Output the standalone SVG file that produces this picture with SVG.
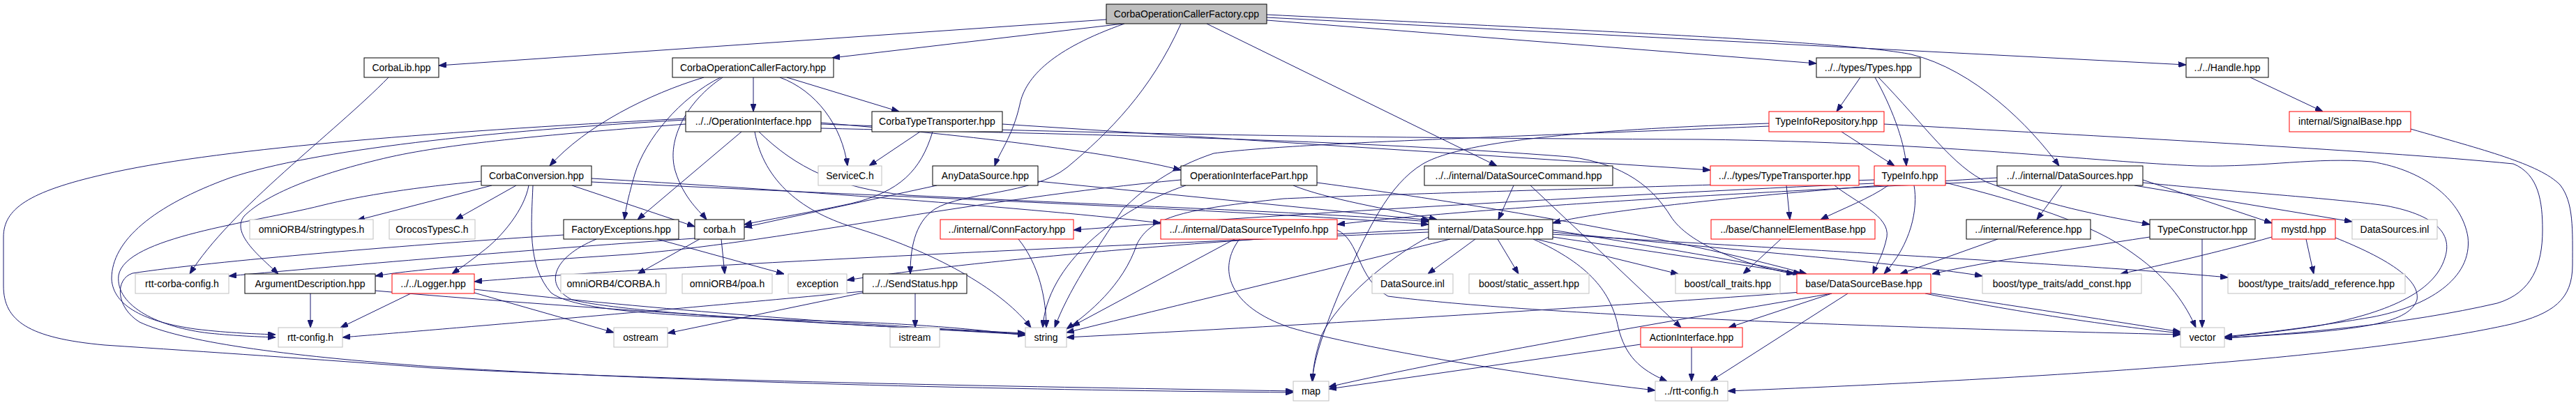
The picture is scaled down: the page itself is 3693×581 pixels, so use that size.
<svg xmlns="http://www.w3.org/2000/svg" width="3693" height="581" viewBox="0 0 3693 581">
<style>
rect{fill:#fff;stroke:#000;stroke-width:1}
.r rect{stroke:#ff0000}
.g rect{stroke:#bfbfbf}
.root rect{fill:#bfbfbf;stroke:#000}
text{font-family:"Liberation Sans",Arial,sans-serif;font-size:14px;text-anchor:middle;fill:#000}
#edges path{fill:none;stroke:#191970;stroke-width:1;marker-end:url(#a)}
</style>
<defs>
<marker id="a" markerWidth="11" markerHeight="8" refX="11" refY="4" orient="auto" markerUnits="userSpaceOnUse"><path d="M0,0 L11,4 L0,8 z" fill="#191970" stroke="#191970" stroke-width="1"/></marker>
</defs>
<rect x="0" y="0" width="3693" height="581" style="fill:#fff;stroke:none"/>
<g id="edges">
<path d="M1586,28 L629,94"/>
<path d="M1610,34 L1193,83"/>
<path d="M1816,29 L2604,91"/>
<path d="M1816,25 L3134,93"/>
<path d="M1816,21 C2300,45 2650,60 2740,78 C2830,100 2910,180 2952,238"/>
<path d="M1730,34 L2146,238"/>
<path d="M1612,34 C1510,70 1470,110 1462,150 C1452,195 1432,220 1426,238"/>
<path d="M1693,34 C1650,130 1590,190 1530,240 C1480,280 1380,275 1340,300 C1310,320 1305,360 1305,393"/>
<path d="M1080,111 L1080,160"/>
<path d="M1009,111 C930,135 840,180 788,238"/>
<path d="M1033,111 C975,140 925,200 910,250 C900,285 897,300 895,315"/>
<path d="M1036,111 C985,145 955,200 968,245 C980,285 1005,305 1013,315"/>
<path d="M1118,111 C1170,130 1207,180 1215,238"/>
<path d="M1128,111 L1289,160"/>
<path d="M1177,176 C1400,195 1600,220 1693,244"/>
<path d="M1063,189 L914,315"/>
<path d="M1082,189 C1095,260 1150,305 1230,328 C1350,365 1440,420 1478,470"/>
<path d="M983,178 C800,192 650,205 560,225 C450,250 380,280 350,310 C330,335 375,370 399,393"/>
<path d="M983,172 C700,188 450,215 330,255 C220,295 160,345 160,400 C162,440 210,462 280,472 C330,478 370,479 395,480"/>
<path d="M983,170 C600,190 300,215 150,250 C40,275 5,300 5,340 L5,410 C5,460 40,485 150,495 C300,505 450,515 620,528 C1000,548 1500,555 1854,561"/>
<path d="M1177,178 C1500,190 1900,198 2440,200 C2800,205 3000,232 3150,238 C3250,240 3320,225 3400,232 C3480,245 3530,290 3538,340 C3545,400 3480,440 3400,455 C3300,472 3220,480 3189,483"/>
<path d="M1177,184 C1500,192 1900,198 2250,225 C2330,235 2370,270 2395,310 C2420,350 2500,380 2572,393"/>
<path d="M1088,189 C1140,240 1200,270 1300,280 C1600,295 1900,305 2048,318"/>
<path d="M1319,189 L1246,238"/>
<path d="M1337,189 C1320,245 1290,275 1220,292 C1150,307 1100,315 1067,322"/>
<path d="M1437,178 L2452,244"/>
<path d="M2667,111 L2633,160"/>
<path d="M2688,111 C2710,150 2730,200 2733,238"/>
<path d="M2693,111 C2760,180 2800,240 2850,262 C2950,300 3030,312 3082,322"/>
<path d="M2640,189 L2716,238"/>
<path d="M2536,177 C2300,185 2100,200 2040,235 C1990,265 1960,330 1920,420 C1895,480 1883,520 1881,547"/>
<path d="M2536,181 C2200,195 1850,205 1740,220 C1680,240 1640,270 1610,300 C1570,360 1530,420 1512,470"/>
<path d="M2701,178 C3000,195 3400,215 3603,235 C3640,250 3645,290 3645,330 C3645,380 3630,420 3580,435 C3450,465 3300,478 3189,485"/>
<path d="M3072,262 C3200,275 3350,285 3420,295 C3500,310 3515,340 3505,370 C3490,420 3420,450 3320,468 C3250,478 3210,482 3189,484"/>
<path d="M3226,111 L3330,160"/>
<path d="M3456,185 C3560,215 3640,235 3670,265 C3690,290 3688,330 3688,380 C3688,430 3660,450 3600,465 C3400,510 3000,540 2477,561"/>
<path d="M705,266 L512,316"/>
<path d="M740,266 L653,315"/>
<path d="M820,266 L996,325"/>
<path d="M758,266 C752,300 720,340 690,362 C670,378 655,388 648,393"/>
<path d="M764,266 C762,320 755,380 790,420 C830,450 1000,455 1230,462 C1350,467 1420,475 1470,481"/>
<path d="M690,260 C600,268 520,280 460,295 C360,320 180,340 170,395 C165,440 230,470 300,478 C340,482 370,483 395,484"/>
<path d="M808,337 C600,350 300,375 190,392 C165,400 165,440 200,462 C260,490 400,510 620,526 C1000,550 1500,560 1854,563"/>
<path d="M848,256 C1100,270 1500,300 1664,320"/>
<path d="M848,261 C1300,283 1750,300 2048,322"/>
<path d="M1343,266 L1067,326"/>
<path d="M1488,260 L2050,316"/>
<path d="M1693,258 C1400,285 1100,350 900,365 C750,375 600,385 538,396"/>
<path d="M1700,266 C1600,300 1500,380 1495,470"/>
<path d="M1854,266 C1900,285 1990,300 2060,315"/>
<path d="M1888,262 C2100,290 2400,340 2590,393"/>
<path d="M2170,266 L2148,315"/>
<path d="M2194,266 L2410,470"/>
<path d="M2561,266 L2566,315"/>
<path d="M2630,266 C2660,290 2710,310 2705,340 C2700,365 2690,380 2685,393"/>
<path d="M2707,266 C2680,285 2640,300 2610,315"/>
<path d="M2744,266 C2750,300 2740,350 2701,393"/>
<path d="M2687,263 C2300,280 1800,310 1539,330"/>
<path d="M2687,258 C2300,270 1950,280 1840,285 C1700,300 1650,310 1630,350 C1610,410 1560,450 1529,472"/>
<path d="M2789,262 C2900,290 3000,320 3060,365 C3110,400 3135,440 3148,470"/>
<path d="M3072,258 L3257,320"/>
<path d="M3060,266 L3372,318"/>
<path d="M2956,266 L2920,315"/>
<path d="M2863,255 C2600,270 2300,300 2226,320"/>
<path d="M2863,260 C2500,275 2100,300 1917,322"/>
<path d="M1460,343 C1490,380 1500,430 1500,470"/>
<path d="M1770,343 L1537,468"/>
<path d="M1777,343 C1745,385 1760,440 1850,470 C1950,500 2200,540 2373,560"/>
<path d="M1917,330 C1950,345 1945,400 1990,425 C2200,452 2700,470 3126,480"/>
<path d="M2048,340 C1990,370 1920,430 1895,480 C1885,510 1882,530 1882,547"/>
<path d="M2079,343 C1950,375 1700,435 1529,477"/>
<path d="M2115,343 L2047,393"/>
<path d="M2147,343 L2177,393"/>
<path d="M2198,343 C2280,380 2310,420 2320,470 C2330,510 2350,530 2390,547"/>
<path d="M2202,343 L2406,393"/>
<path d="M2226,330 C2350,350 2500,375 2582,393"/>
<path d="M2226,333 C2500,360 2750,380 2842,396"/>
<path d="M2226,336 C2600,360 3000,380 3194,398"/>
<path d="M2226,340 C2500,380 2900,440 3126,476"/>
<path d="M2048,333 C1500,355 900,385 680,404"/>
<path d="M2048,329 C1700,345 1350,380 1214,402"/>
<path d="M2553,343 L2499,393"/>
<path d="M2864,343 L2724,393"/>
<path d="M3082,340 C2950,360 2850,375 2770,393"/>
<path d="M3157,343 L3157,470"/>
<path d="M3306,343 L3317,393"/>
<path d="M3257,340 C3180,362 3100,380 3040,393"/>
<path d="M3348,341 C3420,370 3470,400 3465,430 C3455,460 3400,470 3300,478 C3240,482 3205,484 3189,485"/>
<path d="M445,421 L445,470"/>
<path d="M538,417 C800,440 1200,465 1470,480"/>
<path d="M589,421 L488,470"/>
<path d="M680,420 L880,477"/>
<path d="M680,415 C900,440 1200,465 1470,478"/>
<path d="M996,342 C800,355 500,380 328,396"/>
<path d="M1003,343 L914,393"/>
<path d="M1034,343 L1039,393"/>
<path d="M942,343 L1124,393"/>
<path d="M855,343 C790,370 780,410 820,430 C900,450 1200,465 1470,479"/>
<path d="M557,111 C480,190 330,300 272,393"/>
<path d="M1312,421 L1312,470"/>
<path d="M1237,420 L957,478"/>
<path d="M1237,418 C900,450 600,475 491,484"/>
<path d="M2626,421 C2400,460 2100,510 1905,555"/>
<path d="M2596,418 C2300,440 1900,465 1529,484"/>
<path d="M2626,421 L2478,470"/>
<path d="M2649,421 L2452,547"/>
<path d="M2760,421 C2900,450 3050,470 3126,478"/>
<path d="M2352,494 L1905,558"/>
<path d="M2425,498 L2425,547"/>
</g>
<g id="n0" class="root"><rect x="1586" y="6" width="230" height="28"/><text x="1701" y="25">CorbaOperationCallerFactory.cpp</text></g>
<g id="n1"><rect x="522" y="83" width="107" height="28"/><text x="575.5" y="102">CorbaLib.hpp</text></g>
<g id="n2"><rect x="964" y="83" width="231" height="28"/><text x="1079.5" y="102">CorbaOperationCallerFactory.hpp</text></g>
<g id="n3"><rect x="2604" y="83" width="149" height="28"/><text x="2678.5" y="102">../../types/Types.hpp</text></g>
<g id="n4"><rect x="3134" y="83" width="118" height="28"/><text x="3193" y="102">../../Handle.hpp</text></g>
<g id="n5"><rect x="983" y="160" width="194" height="29"/><text x="1080" y="179">../../OperationInterface.hpp</text></g>
<g id="n6"><rect x="1250" y="160" width="187" height="29"/><text x="1343.5" y="179">CorbaTypeTransporter.hpp</text></g>
<g id="n7" class="r"><rect x="2536" y="160" width="165" height="29"/><text x="2618.5" y="179">TypeInfoRepository.hpp</text></g>
<g id="n8" class="r"><rect x="3282" y="160" width="174" height="29"/><text x="3369" y="179">internal/SignalBase.hpp</text></g>
<g id="n9"><rect x="690" y="238" width="158" height="28"/><text x="769" y="257">CorbaConversion.hpp</text></g>
<g id="n10" class="g"><rect x="1173" y="238" width="91" height="28"/><text x="1218.5" y="257">ServiceC.h</text></g>
<g id="n11"><rect x="1337" y="238" width="151" height="28"/><text x="1412.5" y="257">AnyDataSource.hpp</text></g>
<g id="n12"><rect x="1693" y="238" width="195" height="28"/><text x="1790.5" y="257">OperationInterfacePart.hpp</text></g>
<g id="n13"><rect x="2042" y="238" width="270" height="28"/><text x="2177" y="257">../../internal/DataSourceCommand.hpp</text></g>
<g id="n14" class="r"><rect x="2452" y="238" width="213" height="28"/><text x="2558.5" y="257">../../types/TypeTransporter.hpp</text></g>
<g id="n15" class="r"><rect x="2687" y="238" width="102" height="28"/><text x="2738" y="257">TypeInfo.hpp</text></g>
<g id="n16"><rect x="2863" y="238" width="209" height="28"/><text x="2967.5" y="257">../../internal/DataSources.hpp</text></g>
<g id="n17" class="g"><rect x="358" y="315" width="177" height="28"/><text x="446.5" y="334">omniORB4/stringtypes.h</text></g>
<g id="n18" class="g"><rect x="558" y="315" width="123" height="28"/><text x="619.5" y="334">OrocosTypesC.h</text></g>
<g id="n19"><rect x="808" y="315" width="165" height="28"/><text x="890.5" y="334">FactoryExceptions.hpp</text></g>
<g id="n20"><rect x="996" y="315" width="71" height="28"/><text x="1031.5" y="334">corba.h</text></g>
<g id="n21" class="r"><rect x="1348" y="315" width="191" height="28"/><text x="1443.5" y="334">../internal/ConnFactory.hpp</text></g>
<g id="n22" class="r"><rect x="1664" y="315" width="253" height="28"/><text x="1790.5" y="334">../../internal/DataSourceTypeInfo.hpp</text></g>
<g id="n23"><rect x="2048" y="315" width="178" height="28"/><text x="2137" y="334">internal/DataSource.hpp</text></g>
<g id="n24" class="r"><rect x="2453" y="315" width="235" height="28"/><text x="2570.5" y="334">../base/ChannelElementBase.hpp</text></g>
<g id="n25"><rect x="2819" y="315" width="178" height="28"/><text x="2908" y="334">../internal/Reference.hpp</text></g>
<g id="n26"><rect x="3082" y="315" width="151" height="28"/><text x="3157.5" y="334">TypeConstructor.hpp</text></g>
<g id="n27" class="r"><rect x="3257" y="315" width="91" height="28"/><text x="3302.5" y="334">mystd.hpp</text></g>
<g id="n28" class="g"><rect x="3372" y="315" width="122" height="28"/><text x="3433" y="334">DataSources.inl</text></g>
<g id="n29" class="g"><rect x="194" y="393" width="134" height="28"/><text x="261" y="412">rtt-corba-config.h</text></g>
<g id="n30"><rect x="351" y="393" width="187" height="28"/><text x="444.5" y="412">ArgumentDescription.hpp</text></g>
<g id="n31" class="r"><rect x="562" y="393" width="118" height="28"/><text x="621" y="412">../../Logger.hpp</text></g>
<g id="n32" class="g"><rect x="804" y="393" width="151" height="28"/><text x="879.5" y="412">omniORB4/CORBA.h</text></g>
<g id="n33" class="g"><rect x="978" y="393" width="129" height="28"/><text x="1042.5" y="412">omniORB4/poa.h</text></g>
<g id="n34" class="g"><rect x="1130" y="393" width="84" height="28"/><text x="1172" y="412">exception</text></g>
<g id="n35"><rect x="1237" y="393" width="149" height="28"/><text x="1311.5" y="412">../../SendStatus.hpp</text></g>
<g id="n36" class="g"><rect x="1967" y="393" width="116" height="28"/><text x="2025" y="412">DataSource.inl</text></g>
<g id="n37" class="g"><rect x="2106" y="393" width="172" height="28"/><text x="2192" y="412">boost/static_assert.hpp</text></g>
<g id="n38" class="g"><rect x="2402" y="393" width="150" height="28"/><text x="2477" y="412">boost/call_traits.hpp</text></g>
<g id="n39" class="r"><rect x="2576" y="393" width="192" height="28"/><text x="2672" y="412">base/DataSourceBase.hpp</text></g>
<g id="n40" class="g"><rect x="2842" y="393" width="228" height="28"/><text x="2956" y="412">boost/type_traits/add_const.hpp</text></g>
<g id="n41" class="g"><rect x="3194" y="393" width="254" height="28"/><text x="3321" y="412">boost/type_traits/add_reference.hpp</text></g>
<g id="n42" class="g"><rect x="399" y="470" width="92" height="28"/><text x="445" y="489">rtt-config.h</text></g>
<g id="n43" class="g"><rect x="880" y="470" width="77" height="28"/><text x="918.5" y="489">ostream</text></g>
<g id="n44" class="g"><rect x="1276" y="470" width="71" height="28"/><text x="1311.5" y="489">istream</text></g>
<g id="n45" class="g"><rect x="1470" y="470" width="59" height="28"/><text x="1499.5" y="489">string</text></g>
<g id="n46" class="r"><rect x="2352" y="470" width="146" height="28"/><text x="2425" y="489">ActionInterface.hpp</text></g>
<g id="n47" class="g"><rect x="3126" y="470" width="63" height="28"/><text x="3157.5" y="489">vector</text></g>
<g id="n48" class="g"><rect x="1854" y="547" width="51" height="28"/><text x="1879.5" y="566">map</text></g>
<g id="n49" class="g"><rect x="2373" y="547" width="104" height="28"/><text x="2425" y="566">../rtt-config.h</text></g>
</svg>
